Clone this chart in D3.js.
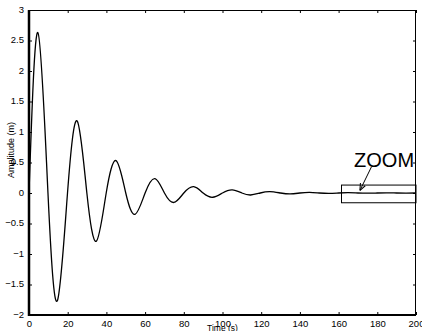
<!DOCTYPE html>
<html>
<head>
<meta charset="utf-8">
<script src="https://cdn.jsdelivr.net/npm/d3@7"></script>
<style>
body { margin: 0; background: #fff; }
text { font-family: "Liberation Sans", Arial, sans-serif; fill: #000; }
</style>
</head>
<body>
<svg width="422" height="331"></svg>
<script>
// values (extrema and zero crossings)
const time = [0, 4.6, 9.8, 14.6, 19.9, 24.9, 29.9, 34.8, 39.9, 45, 50, 54.8, 60, 65.1, 70, 74.9, 80, 85.1,
  90, 94.9, 100, 105, 110, 114.5, 119.5, 124.5, 130, 135, 140, 145, 150, 155, 160, 165, 170, 175, 180,
  185, 190, 195, 200];
const amplitude = [0, 2.63, 0, -1.77, 0, 1.18, 0, -0.79, 0, 0.53, 0, -0.35, 0, 0.235, 0, -0.155, 0, 0.104,
  0, -0.07, 0, 0.05, 0, -0.033, 0, 0.022, 0, -0.015, 0, 0.01, 0, -0.007, 0, 0.005, 0, -0.003, 0,
  0.002, 0, -0.001, 0];
const xTicks = [0, 20, 40, 60, 80, 100, 120, 140, 160, 180, 200];
const yTicks = [-2, -1.5, -1, -0.5, 0, 0.5, 1, 1.5, 2, 2.5, 3];
const zoomTime = [161.5, 200];
const zoomAmp = [-0.16, 0.13];
const arrowTime = [177, 171];
const arrowAmp = [0.43, 0.04];

const svg = d3.select('svg');
const margin = {top: 10, right: 6, bottom: 16, left: 29};
const width = 422 - margin.left - margin.right;
const height = 331 - margin.top - margin.bottom;

const x = d3.scaleLinear().domain([0, 200]).range([0, width]);
const y = d3.scaleLinear().domain([-2, 3]).range([height, 0]);

const g = svg.append('g').attr('transform', `translate(${margin.left},${margin.top})`);

const fmt = d => d < 0 ? '\u2212' + Math.abs(d) : String(d);

// axes with inward ticks
const axBottom = g.append('g').attr('transform', `translate(0,${height})`)
  .call(d3.axisBottom(x).tickValues(xTicks).tickFormat(fmt).tickSizeInner(-3).tickSizeOuter(0).tickPadding(5));
const axTop = g.append('g')
  .call(d3.axisTop(x).tickValues(xTicks).tickFormat('').tickSizeInner(-3).tickSizeOuter(0));
const axLeft = g.append('g')
  .call(d3.axisLeft(y).tickValues(yTicks).tickFormat(fmt).tickSizeInner(-3).tickSizeOuter(0).tickPadding(5));
const axRight = g.append('g').attr('transform', `translate(${width},0)`)
  .call(d3.axisRight(y).tickValues(yTicks).tickFormat('').tickSizeInner(-3).tickSizeOuter(0));

[axBottom, axTop, axLeft, axRight].forEach(a => {
  a.select('.domain').remove();
  a.selectAll('line').attr('stroke', '#000');
  a.selectAll('text').attr('font-size', 9.5).attr('fill', '#222');
});
axLeft.selectAll('text').attr('dy', '0.25em');

// frame
g.append('line').attr('x1', 0).attr('x2', width).attr('y1', 0.5).attr('y2', 0.5).attr('stroke', '#000').attr('stroke-width', 1);
g.append('line').attr('x1', width - 0.5).attr('x2', width - 0.5).attr('y1', 0).attr('y2', height).attr('stroke', '#000').attr('stroke-width', 1);
g.append('line').attr('x1', -1).attr('x2', width).attr('y1', height).attr('y2', height).attr('stroke', '#000').attr('stroke-width', 2);
g.append('line').attr('x1', 0).attr('x2', 0).attr('y1', 0).attr('y2', height + 1).attr('stroke', '#000').attr('stroke-width', 2.5);

// signal
const pts = time.map((t, i) => [t, amplitude[i]]);
const line = d3.line().x(d => x(d[0])).y(d => y(d[1])).curve(d3.curveNatural);
g.append('path').datum(pts).attr('d', line)
  .attr('fill', 'none').attr('stroke', '#000').attr('stroke-width', 1.3);

// zoom annotation
g.append('rect')
  .attr('x', x(zoomTime[0])).attr('y', y(zoomAmp[1]))
  .attr('width', x(zoomTime[1]) - x(zoomTime[0])).attr('height', y(zoomAmp[0]) - y(zoomAmp[1]))
  .attr('fill', 'none').attr('stroke', '#000').attr('stroke-width', 1);

svg.append('defs').append('marker')
  .attr('id', 'head').attr('viewBox', '0 0 10 10').attr('refX', 10).attr('refY', 5)
  .attr('markerWidth', 7).attr('markerHeight', 7).attr('orient', 'auto').attr('markerUnits', 'userSpaceOnUse')
  .append('path').attr('d', 'M0,1L10,5L0,9').attr('fill', 'none').attr('stroke', '#000').attr('stroke-width', 1.5);

g.append('line')
  .attr('x1', x(arrowTime[0])).attr('y1', y(arrowAmp[0]))
  .attr('x2', x(arrowTime[1])).attr('y2', y(arrowAmp[1]))
  .attr('stroke', '#000').attr('stroke-width', 1).attr('marker-end', 'url(#head)');

g.append('text').attr('x', x(183.5)).attr('y', y(0.43))
  .attr('text-anchor', 'middle').attr('font-size', 20).text('ZOOM');

// axis labels
svg.append('text').attr('x', margin.left + x(100)).attr('y', 331)
  .attr('text-anchor', 'middle').attr('font-size', 8.5).attr('fill', '#222').text('Time (s)');
svg.append('text').attr('transform', 'translate(14,150) rotate(-90)')
  .attr('text-anchor', 'middle').attr('font-size', 9).attr('fill', '#222').text('Amplitude (m)');
</script>
</body>
</html>
